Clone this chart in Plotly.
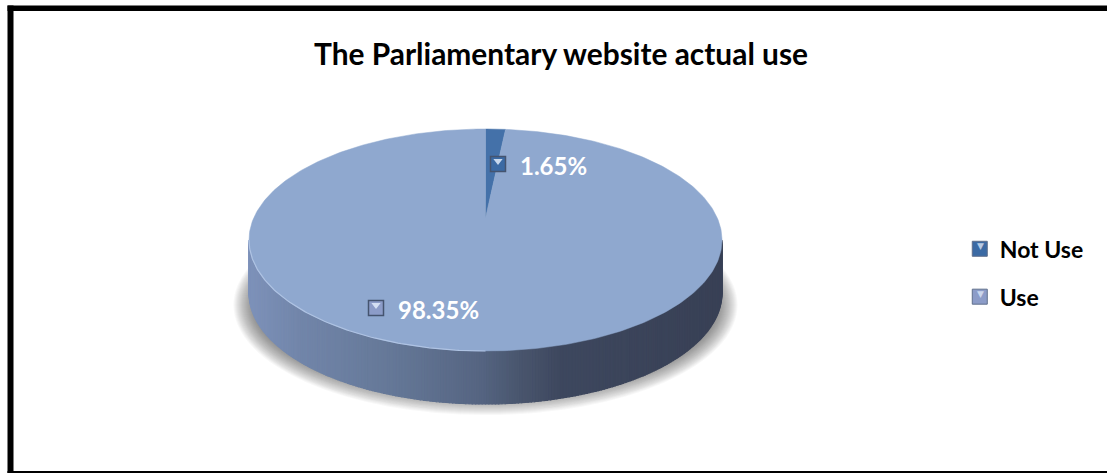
import numpy as np
import plotly.graph_objects as go

# Chart content
title_text = "The Parliamentary website actual use"
categories = ["Not Use", "Use"]
shares = [1.65, 98.35]
label_anchors = [(506, 164), (384, 308)]
legend_key_centers = [(980, 249), (980, 297)]

# Styling
slice_colors = ["#4471A9", "#8FA8CF"]
key_colors = ["#3B6AA4", "#8C9CC8"]
WIDTH, HEIGHT = 1107, 473

# Disc geometry on the canvas: a tilted circle seen in perspective
CX, HUB_Y, FRONT_Y, BACK_Y, HALF_W, DEPTH = 485.5, 218.0, 351.0, 129.0, 236.5, 53.0
near = FRONT_Y - HUB_Y
persp = (2 * near / (FRONT_Y - BACK_Y)) - 1
scale_x = HALF_W * np.sqrt(1 - persp ** 2)
wall_turn = np.arccos(-persp) / (2 * np.pi)


def project(turn, drop=0.0):
    """Map a clockwise turn from 12 o'clock (0..1) on the disc to canvas x, y."""
    a = 2 * np.pi * np.asarray(turn, dtype=float)
    ux, uy = np.sin(a), np.cos(a)
    w = 1 + persp * uy
    return CX + scale_x * ux / w, FRONT_Y - near * (1 + uy) / w + drop


def side_color(x):
    stops_x = [249, 300, 400, 480, 520, 560, 722]
    stops_rgb = np.array([[126, 146, 186], [114, 134, 170], [100, 119, 150],
                          [86, 101, 130], [74, 86, 110], [62, 72, 95], [57, 65, 86]])
    return "rgb(%d,%d,%d)" % tuple(np.interp(x, stops_x, stops_rgb[:, i]) for i in range(3))


fig = go.Figure()
shapes = []

# Soft ground shadow built from stacked translucent ellipses
for i in range(22):
    grow = 22 - i
    shapes.append(dict(type="circle", xref="x", yref="y", layer="below",
                       x0=485.5 - 230 - grow, x1=485.5 + 230 + grow,
                       y0=305 - 88 - grow, y1=305 + 88 + grow,
                       fillcolor="rgba(50,50,50,0.036)", line_width=0))

# Outer frame: left, top and bottom rules, open on the right
for x0, y0, x1, y1 in [(7.5, 5.5, 13.5, 473), (7.5, 5.5, WIDTH, 11), (7.5, 471, WIDTH, 473)]:
    shapes.append(dict(type="rect", xref="x", yref="y", x0=x0, x1=x1, y0=y0, y1=y1,
                       line_width=0, fillcolor="#000000"))

# Cylinder wall, split into narrow strips for its left-to-right shading
strip_edges = np.linspace(wall_turn, 1 - wall_turn, 241)
for t0, t1 in zip(strip_edges[:-1], strip_edges[1:]):
    xa, ya = project([t0, t1])
    xb, yb = project([t1, t0], DEPTH)
    fig.add_trace(go.Scatter(
        x=list(xa) + list(xb) + [xa[0]], y=list(ya) + list(yb) + [ya[0]],
        mode="lines", fill="toself", fillcolor=side_color(xa.mean()),
        line=dict(color=side_color(xa.mean()), width=1.2),
        showlegend=False, hoverinfo="skip"))

# Top face of the pie, one wedge per share
total = sum(shares)
start = 0.0
for name, share, color in zip(categories, shares, slice_colors):
    turns = np.linspace(start, start + share / total, 400)
    ex, ey = project(turns)
    fig.add_trace(go.Scatter(
        x=[CX] + list(ex) + [CX], y=[HUB_Y] + list(ey) + [HUB_Y],
        mode="lines", fill="toself", fillcolor=color, line=dict(color=color, width=0.5),
        name=name, showlegend=False, hoverinfo="skip"))
    start += share / total

# Lit rim along the front-left of the top face
rim_x, rim_y = project(np.linspace(0.5, 1 - wall_turn, 120))
fig.add_trace(go.Scatter(x=rim_x, y=rim_y, mode="lines",
                         line=dict(color="#AFC3E3", width=1.2),
                         showlegend=False, hoverinfo="skip"))

# Legend entries
for i, (name, color) in enumerate(zip(categories, key_colors)):
    fig.add_trace(go.Scatter(
        x=[None], y=[None], mode="markers", name=name, legendgroup=name,
        marker=dict(symbol="square", size=15, color=color,
                    line=dict(color="#5F6F8C", width=1))))

# Value labels with their small keys
annotations = []
for (ax, ay), share, color in zip(label_anchors, shares, key_colors):
    fig.add_trace(go.Scatter(
        x=[ax - 8], y=[ay], mode="markers",
        marker=dict(symbol="square", size=15, color=color, line=dict(color="#45546F", width=1.5)),
        showlegend=False, hoverinfo="skip"))
    fig.add_trace(go.Scatter(
        x=[ax - 8], y=[ay - 3], mode="markers",
        marker=dict(symbol="triangle-down", size=8, color="rgba(225,235,250,0.85)"),
        showlegend=False, hoverinfo="skip"))
    annotations.append(dict(x=ax + 12, y=ay + 1, xref="x", yref="y", text=f"<b>{share:.2f}%</b>",
                            showarrow=False, xanchor="left", yanchor="middle",
                            font=dict(family="Lato", size=24, color="#FFFFFF")))

# Highlight glints on the legend keys
for kx, ky in legend_key_centers:
    annotations.append(dict(x=kx, y=ky - 3, xref="x", yref="y", text="▼", showarrow=False,
                            xanchor="center", yanchor="middle",
                            font=dict(family="DejaVu Sans", size=9, color="rgba(225,235,250,0.75)")))

annotations.append(dict(x=561, y=53, xref="x", yref="y", text=f"<b>{title_text}</b>",
                        showarrow=False, xanchor="center", yanchor="middle",
                        font=dict(family="Lato", size=29.9, color="#000000")))

fig.update_layout(
    width=WIDTH, height=HEIGHT, margin=dict(l=0, r=0, t=0, b=0),
    paper_bgcolor="#FFFFFF", plot_bgcolor="#FFFFFF",
    xaxis=dict(range=[0, WIDTH], visible=False, fixedrange=True),
    yaxis=dict(range=[HEIGHT, 0], visible=False, fixedrange=True),
    shapes=shapes, annotations=annotations,
    legend=dict(x=0.867, y=0.4232, xanchor="left", yanchor="middle", tracegroupgap=15,
                itemwidth=30, bgcolor="rgba(0,0,0,0)",
                font=dict(family="Lato", size=23, color="#000000", weight="bold")),
)

fig.write_html("out.html")
